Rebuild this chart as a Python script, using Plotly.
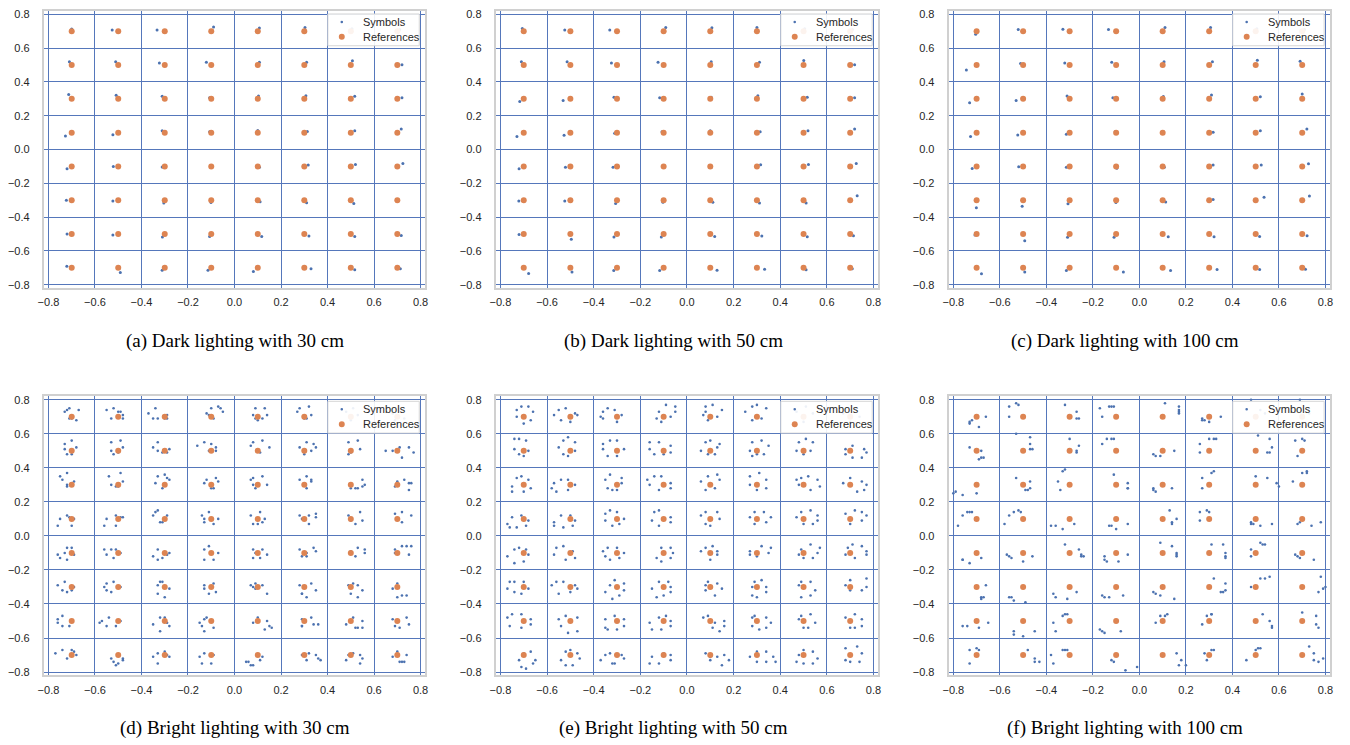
import plotly.graph_objects as go

# ---------------- data ----------------
XS = [-0.7, -0.5, -0.3, -0.1, 0.1, 0.3, 0.5, 0.7]
YS = [0.7, 0.5, 0.3, 0.1, -0.1, -0.3, -0.5, -0.7]
TICKS = [-0.8, -0.6, -0.4, -0.2, 0.0, 0.2, 0.4, 0.6, 0.8]
LEGEND_LABELS = ["Symbols", "References"]

CAPTIONS = [
    "(a) Dark lighting with 30 cm",
    "(b) Dark lighting with 50 cm",
    "(c) Dark lighting with 100 cm",
    "(d) Bright lighting with 30 cm",
    "(e) Bright lighting with 50 cm",
    "(f) Bright lighting with 100 cm",
]

# Dark lighting panels: symbol offset from each reference (thousandths), rows top->bottom
A_DX = [[0, -26, -33, 10, 7, 3, 5, 10],
        [-10, -11, -23, -21, 7, 10, 7, 20],
        [-13, -9, -11, -7, 3, 7, 17, 20],
        [-27, -23, -11, -7, 0, 13, 17, 17],
        [-20, -21, -11, 0, 7, 17, 20, 24],
        [-23, -23, -4, -1, 10, 10, 13, 0],
        [-20, -23, -10, -7, 17, 20, 17, 17],
        [-21, 9, -11, -14, -19, 29, 17, 13]]
A_DY = [[13, 8, 8, 25, 20, 23, 15, 10],
        [19, 19, 12, 16, 17, 17, 25, 2],
        [26, 22, 15, 7, 17, 18, 15, 7],
        [-20, -13, 11, 5, 13, 7, 11, 22],
        [-13, -1, -3, 0, -5, 9, 11, 17],
        [0, -5, -17, -13, -9, -15, -20, 0],
        [0, -5, -17, -15, -15, -11, -15, -9],
        [9, -28, -15, -15, -22, -5, -11, -5]]

B_DX = [[-6, -24, -31, 9, 7, 0, 5, 10],
        [-10, -14, -24, -24, 4, 11, 1, 19],
        [-17, -31, -13, -17, 4, 4, 16, 19],
        [-29, -27, -10, -7, 0, 14, 19, 19],
        [-20, -21, -17, 0, 4, 16, 21, 26],
        [-21, -24, -6, -3, 11, 11, 11, 30],
        [-20, 4, -13, -10, 19, 21, 16, 14],
        [21, 7, -14, -17, 29, 33, 11, 9]]
B_DY = [[16, 8, 8, 23, 21, 23, 15, 10],
        [19, 19, 12, 17, 19, 17, 27, 2],
        [-16, -10, 10, 6, 10, 19, 10, 6],
        [-23, -16, -4, 6, 12, 6, 12, 21],
        [-14, -4, -4, -6, -4, 10, 12, 17],
        [-4, -4, -19, -12, -12, -17, -17, 27],
        [-2, -31, -17, -17, -14, -12, -16, -10],
        [-33, -25, -16, -16, -14, -8, -12, -6]]

C_DX = [[-4, -21, -29, -33, 10, 6, 5, 10],
        [-44, -11, -21, -19, 6, 14, 7, -9],
        [-30, -30, -11, -14, 3, 10, 20, 0],
        [-26, -23, -14, -4, 3, 17, 20, 20],
        [-19, -19, -14, 3, 7, 17, 24, 27],
        [-1, -4, -7, -1, 13, 17, 36, 31],
        [-7, 7, -9, -9, 24, 21, 17, 21],
        [21, 7, -14, 31, 34, 34, 17, 14]]
C_DY = [[-17, 10, 12, 10, 23, 23, 15, 10],
        [-29, 10, 12, 17, 19, 19, 29, 23],
        [-23, -10, 17, 6, 14, 23, 12, 29],
        [-23, -14, -10, 6, 6, 2, 12, 21],
        [-12, -2, -4, -10, -4, 8, 8, 16],
        [-45, -35, -21, -14, -10, 4, 17, 25],
        [-6, -39, -19, -19, -16, -16, -14, -10],
        [-35, -25, -16, -25, -16, -10, -10, -8]]

# Bright lighting panels: symbol offsets (hundredths) around each reference, rows top->bottom
D_PTS = [
    [[(-3, 3), (-2, 4), (-1, 5), (3, 4), (-1, -1), (0, -1), (2, -2)],
     [(-5, 4), (-2, 5), (0, 3), (1, 3), (-3, -1), (2, -1), (2, 1)],
     [(-7, 2), (-4, 5), (-5, -1), (-3, -1), (0, -1), (1, 1), (1, -1)],
     [(-2, 2), (0, 5), (3, 6), (4, 5), (5, 3), (1, -1), (-1, 1)],
     [(-2, 1), (-1, 5), (3, 5), (4, 1), (0, -2), (2, -1), (-1, -1)],
     [(-3, 3), (-2, 5), (2, 6), (3, 1), (1, -1), (0, -1)],
     [(-2, 3), (1, 5), (3, 1), (0, -2)],
     [(-2, 2), (2, 4), (3, -1), (-1, -2)]],
    [[(-3, 4), (0, 6), (2, 2), (-2, -2), (0, -2), (-3, 1)],
     [(-3, 5), (1, 6), (2, 2), (-3, 0), (-2, -2), (0, -1)],
     [(-5, 2), (-3, 5), (-3, 0), (-1, -1), (1, -1), (2, 1)],
     [(-6, 3), (-3, 5), (0, 4), (2, 2), (2, 0), (-1, 0)],
     [(-3, 3), (-2, 5), (2, 6), (5, 2), (1, -1), (0, 0)],
     [(-2, 2), (1, 5), (4, 4), (5, 2), (3, 0), (0, -2)],
     [(-1, 5), (3, 6), (4, 1), (-1, -2), (0, -1)],
     [(-5, 0), (-2, 0), (1, 2), (5, 2), (7, -1), (2, -4)]],
    [[(-5, 5), (-4, 3), (-2, 7), (1, 2), (-2, 0), (-2, -1)],
     [(-4, 5), (1, 7), (2, 2), (-3, 0), (-1, -1), (0, -1)],
     [(-4, 1), (-3, 5), (0, 6), (1, 4), (2, 3), (-1, -2)],
     [(-3, 1), (-2, 3), (2, 4), (3, 2), (0, -2), (1, -2)],
     [(-3, 3), (-2, 4), (2, 5), (4, 0), (-1, -2), (-2, 0)],
     [(-2, 3), (1, 5), (3, 3), (3, 2), (1, -2)],
     [(2, -2), (3, -2), (5, -1), (5, 3), (6, 0), (0, -2)],
     [(-1, -1), (0, 2), (3, 3), (5, 1), (6, 1), (5, -3)]],
    [[(-6, -4), (-5, 0), (-2, 2), (-1, 1), (1, 0), (0, -4)],
     [(-6, -4), (-5, 0), (-1, 2), (1, 1), (2, 1), (-1, -4)],
     [(-5, 2), (-4, 4), (-3, 5), (1, 2), (-2, -2), (-1, -2)],
     [(-4, 2), (-3, 0), (-1, 4), (3, 0), (1, -3), (-3, -2)],
     [(-3, 2), (1, 4), (3, 0), (2, -2), (0, -3), (-2, -3)],
     [(-2, 2), (2, 2), (5, 3), (5, 1), (2, -3), (-1, 0)],
     [(-1, 2), (0, -1), (4, 4), (5, -1), (2, -3)],
     [(-1, 3), (0, 0), (2, 4), (6, 2), (2, -2)]],
    [[(-6, -1), (-5, -3), (-3, 0), (-2, 3), (-2, -4), (1, -1), (0, 3)],
     [(-6, 2), (-5, -1), (-3, 2), (-1, 2), (1, 0), (-2, -3)],
     [(-5, -2), (-3, 2), (-1, -3), (1, -1), (2, 0), (-3, -4)],
     [(-3, 2), (-1, 4), (3, 0), (-3, -4), (1, -4)],
     [(-2, 2), (-1, 0), (2, 2), (4, -1), (1, -3), (-2, -3)],
     [(-2, 2), (-1, -2), (1, 0), (4, 3), (5, 1), (1, -2)],
     [(0, 1), (2, -2), (3, 3), (6, 2), (6, 0)],
     [(-1, 2), (2, 4), (4, 4), (6, 4), (5, -1), (-1, 0)]],
    [[(-6, 1), (-3, 3), (-4, -2), (-2, -3), (0, -2), (1, 0)],
     [(-6, 0), (-5, 2), (-2, 3), (-5, -2), (-3, -3), (1, 0)],
     [(-3, 1), (-2, 3), (-1, 3), (-3, -4), (0, -6), (2, -1)],
     [(-3, 1), (-3, -1), (-1, -4), (1, 2), (2, -3)],
     [(-3, 1), (-2, 0), (-1, 2), (2, 1), (4, -4), (-1, -1)],
     [(-2, 1), (-1, -4), (1, -6), (3, 2), (5, -2), (-1, -4)],
     [(-1, 1), (1, 2), (3, 1), (5, -2), (3, -6), (0, -4)],
     [(-2, -1), (0, 2), (0, -6), (2, -5), (4, -5)]],
    [[(-6, 1), (-6, -1), (-4, 3), (-4, -3), (-1, -3), (0, 0)],
     [(-8, -1), (-7, 0), (-4, 2), (-5, -3), (-1, -3), (1, 0)],
     [(-5, -2), (-2, 2), (-2, -6), (1, -1), (2, -3), (0, 2)],
     [(-5, -1), (-4, -3), (-3, 1), (-3, -6), (1, -4), (-2, 2)],
     [(-2, -1), (0, 2), (4, 0), (5, -3), (6, -4), (3, -5)],
     [(-1, -3), (-1, 1), (3, 2), (4, -2), (6, -2), (-1, -3)],
     [(-2, -2), (1, 2), (3, -4), (5, 0), (2, -4), (5, -4)],
     [(-2, 1), (4, 2), (5, -2), (1, -4), (-1, -3)]],
    [[(-7, 1), (-4, 3), (-2, -2), (0, 3), (2, 0), (1, 2)],
     [(-3, -2), (-2, -4), (0, -5), (2, -3), (2, -2), (-1, -6)],
     [(-5, -1), (-3, 1), (-3, -5), (1, 0), (2, -1), (0, 2)],
     [(-5, -1), (-4, -5), (-3, 1), (0, -5), (1, 0)],
     [(-5, -4), (-3, -6), (-2, -6), (1, -3), (2, -1), (-4, -4)],
     [(-1, 0), (1, -3), (2, 1), (5, 0), (7, -3), (6, -2)],
     [(-2, -3), (1, 1), (4, 0), (5, -2), (4, -5), (-1, 0)],
     [(-2, -1), (0, 2), (1, -4), (3, -4), (4, 0), (2, -4)]],
]

E_PTS = [
    [[(-3, 4), (-1, 6), (2, 6), (4, 3), (3, -2), (0, -4), (-3, 0)],
     [(-7, 1), (-5, 4), (-2, 5), (2, 2), (3, 1), (0, -3), (-4, -2)],
     [(-7, 0), (-6, 3), (-4, 5), (-1, 4), (2, 1), (0, -3), (-6, -1)],
     [(-3, -1), (-2, 3), (1, 7), (5, 6), (5, 3), (3, 0), (-1, -3)],
     [(-1, -2), (-2, 6), (1, 7), (5, 4), (3, 0), (-3, 1), (-2, 3)],
     [(-5, 3), (-2, 6), (0, 7), (4, 5), (2, -1), (-2, -2)],
     [(-3, 3), (1, 6), (4, 2), (0, -3)],
     [(-3, 2), (2, 5), (4, 0), (0, -3)]],
    [[(-4, 7), (-2, 7), (1, 6), (2, 0), (0, -3), (-2, -2), (-4, 1)],
     [(-3, 6), (-1, 8), (2, 5), (2, 0), (-1, -3), (-5, 2), (-3, -2)],
     [(-6, 4), (-3, 6), (0, 6), (3, 1), (0, -3), (-4, -3), (-6, 1)],
     [(-6, 5), (-2, 5), (3, 3), (3, -1), (0, -2), (-4, -2), (-6, 1)],
     [(-4, 0), (-2, 5), (0, 6), (4, 4), (3, 2), (2, -2), (-1, -2)],
     [(-3, 0), (-2, 5), (2, 6), (5, 3), (3, -2), (-2, -3), (0, -2)],
     [(-3, 0), (-2, 5), (1, 7), (4, 5), (3, 0), (0, -2)],
     [(-2, 1), (1, 3), (6, 1), (7, -1), (5, -4), (1, -4), (-2, -2)]],
    [[(-5, -1), (-5, -4), (-3, 4), (-1, 5), (2, 3), (3, -2), (0, -4)],
     [(-8, -2), (-6, -4), (-7, 1), (-4, 3), (-1, 3), (2, 0), (-1, -3)],
     [(-5, 3), (-3, 6), (2, 4), (2, 1), (-2, -3), (0, -3), (-4, -2)],
     [(-7, 3), (-4, 5), (-1, 5), (3, 1), (3, -2), (-2, -3), (-6, 0)],
     [(-4, 2), (-1, 5), (3, 6), (4, 3), (2, -2), (-2, -3)],
     [(-3, 5), (1, 7), (4, 3), (4, -2), (0, -3), (-3, 0)],
     [(-3, 3), (-1, 4), (2, 5), (6, 3), (7, -1), (3, -3), (-2, 0)],
     [(-3, 1), (0, 4), (5, 2), (7, 0), (6, -3), (3, -4)]],
    [[(-7, -3), (-6, -5), (-5, 1), (-1, 2), (2, -1), (1, -4), (-3, -5)],
     [(-7, -2), (-7, -4), (-4, 2), (0, 2), (2, -1), (1, -4), (-3, -5)],
     [(-5, -1), (-5, 3), (-3, 5), (0, 4), (3, 0), (1, -3), (-2, -4)],
     [(-5, -1), (-4, 4), (-2, 5), (3, 1), (3, -2), (-2, -4)],
     [(-4, 2), (-2, 4), (3, 4), (4, 0), (0, -4), (-2, -3)],
     [(-3, 1), (-1, 4), (3, 4), (6, 1), (4, -2), (-1, -3)],
     [(-3, 1), (-1, 4), (3, 5), (6, 2), (6, -1), (4, -3), (0, -3)],
     [(-2, 3), (2, 5), (5, 4), (7, 2), (5, -1), (0, -3)]],
    [[(-7, -2), (-4, 2), (-2, 3), (1, 2), (2, -1), (0, -5), (-4, -6)],
     [(-7, -1), (-6, 3), (-3, 4), (1, 1), (2, -3), (-2, -4)],
     [(-6, 1), (-5, -2), (-4, 3), (0, 3), (3, 0), (1, -3), (-3, -4)],
     [(-3, -3), (-1, 3), (3, 3), (4, 0), (3, -3), (-1, -5)],
     [(-4, 1), (-2, 3), (1, 4), (3, 1), (3, -1), (0, -4)],
     [(-3, 1), (-3, -1), (0, -2), (2, 4), (6, 3), (5, 0)],
     [(-2, -1), (-1, 2), (3, 5), (7, 3), (6, 0), (4, -3), (0, -3)],
     [(-2, -1), (-1, 3), (1, 5), (5, 4), (7, 1), (7, -1), (2, -3)]],
    [[(-7, -1), (-6, 3), (-4, 3), (0, 3), (2, -1), (-1, -4), (-4, -3)],
     [(-8, 1), (-6, 3), (-3, 3), (2, 1), (3, -1), (0, -3), (-5, -4)],
     [(-5, -3), (-3, 1), (-1, 4), (3, 2), (3, -2), (1, -5), (-2, -7)],
     [(-5, -1), (-3, -6), (-2, 3), (2, 3), (3, 0), (3, -3), (0, -5)],
     [(-2, 1), (-1, 3), (3, 2), (5, -1), (2, -5), (-2, -2)],
     [(-2, 0), (-1, 3), (2, 4), (4, 0), (4, -3), (0, -6), (-2, -5)],
     [(-2, 1), (-1, 3), (3, 3), (5, -2), (3, -5), (-1, -6)],
     [(-2, 1), (0, 4), (7, 5), (7, 0), (5, -2), (0, -2)]],
    [[(-7, 2), (-6, -3), (-5, 4), (-1, 4), (3, 1), (3, -2), (-1, -4)],
     [(-5, 1), (-2, 3), (3, 2), (3, -6), (-1, -7), (-4, -3)],
     [(-5, 1), (-5, -4), (-1, 3), (3, 1), (3, -3), (0, -5), (-4, -5)],
     [(-6, -1), (-5, -5), (-2, 2), (1, 3), (3, 0), (3, -3), (-1, -5)],
     [(-3, 2), (-1, 3), (2, -1), (6, 0), (6, -3), (4, -6), (1, -4)],
     [(-2, 2), (-1, 3), (4, 2), (6, -1), (4, -4), (1, -5), (-2, -3)],
     [(-2, 1), (-1, 3), (3, 4), (5, -1), (2, -4), (0, -4)],
     [(-2, 2), (2, 4), (5, 1), (5, -3), (2, -4), (0, -4)]],
    [[(-2, -3), (-1, -7), (1, -8), (0, 1), (3, 2), (5, -3), (4, -5)],
     [(-4, -3), (-2, -6), (-2, 2), (0, 3), (3, 1), (4, -2), (1, -6)],
     [(-7, -3), (-5, 0), (-3, 1), (-1, -5), (2, 0), (3, -2), (-2, -5)],
     [(-6, -5), (-5, -1), (-2, -5), (0, 1), (3, 0), (3, -3)],
     [(-2, 1), (0, -3), (3, -1), (6, 0), (8, -3), (5, -6), (0, -1)],
     [(-3, -1), (0, 2), (4, 2), (7, -1), (8, -4), (4, -4), (0, -4)],
     [(-3, -4), (-2, 0), (0, 3), (4, 2), (6, -2), (4, -5), (0, -5)],
     [(-2, 4), (3, 5), (5, 1), (4, -4), (0, -4), (-2, -3)]],
]

F_PTS = [
    [[(-3, -3), (-3, -4), (-2, -2), (4, 0), (1, -6)],
     [(-6, 6), (-6, 0), (-3, 8), (-2, 7)],
     [(-2, 7), (3, 3), (3, -1), (4, -1)],
     [(-7, 5), (-6, 0), (-3, 6), (-2, 6), (-1, 6)],
     [(1, 8), (7, 6), (7, 3), (7, 2), (7, 4)],
     [(-3, -1), (-3, -2), (-2, -2), (0, -3), (5, 0)],
     [(-2, 10), (2, 4), (4, 2)],
     [(-1, 10), (-3, 3), (3, 2)]],
    [[(-3, 2), (2, 0), (1, -5), (2, -4), (3, -4)],
     [(3, 8), (3, 4), (3, 1), (4, 1), (-3, 10)],
     [(0, 7), (4, 3), (3, 0), (3, -1)],
     [(-6, 4), (-4, 7), (-2, 7), (-1, 7)],
     [(-4, -2), (-3, -3), (-1, -3), (5, 0)],
     [(-4, 4), (-4, -1), (0, 7), (2, 7), (3, 7)],
     [(1, 9), (6, 7), (7, 2), (6, -1), (5, -1)],
     [(-3, 6), (-2, -3), (0, 7), (1, 6)]],
    [[(-10, -5), (-9, -4), (-6, -6), (0, -5)],
     [(-3, 4), (1, -3), (2, -3), (3, -2), (3, 2)],
     [(-5, 2), (-3, 8), (-2, 9), (-4, -3)],
     [(-1, 6), (5, 1), (5, -2), (5, -2)],
     [(-4, -2), (-4, -3), (-3, -4), (4, -2)],
     [(-3, 4), (-3, -2), (1, 7), (2, 8)],
     [(0, 5), (5, 4), (9, 1), (10, -1)],
     [(-4, 2), (0, 7), (2, 8), (2, 7)]],
    [[(-8, -4), (-6, 2), (-4, 4), (-3, 4), (-2, 4)],
     [(-8, -3), (-6, 2), (-4, 4), (-2, 5), (-1, 4)],
     [(-8, -4), (-6, -4), (-3, -6), (2, -3)],
     [(-3, -4), (-2, -4), (0, -6), (5, -3)],
     [(3, 5), (4, -3), (4, -2), (6, 0)],
     [(-4, 4), (-1, 5), (0, 4), (-4, -1)],
     [(-2, -2), (-2, -3), (-1, -3), (2, -4), (7, -3)],
     [(-2, -3), (-1, -2), (4, -4), (8, -2)]],
    [[(-6, -4), (-6, -4), (-3, -6), (2, -3)],
     [(-7, -1), (-6, -2), (-5, -3), (0, -5), (4, -2)],
     [(-2, 5), (4, 2), (5, -1), (5, -2), (6, -2)],
     [(-5, -2), (-5, -4), (-4, -5), (1, -5), (5, -1)],
     [(-1, 6), (4, 4), (6, 0), (6, -2), (6, -1)],
     [(1, 5), (6, 5), (7, 0), (7, -3), (7, -2)],
     [(-2, 2), (-2, -2), (2, 6), (3, 5), (4, 5)],
     [(-3, -1), (-2, -2), (-1, -3), (5, -4)]],
    [[(4, 1), (2, -6), (2, -7), (3, -6)],
     [(-6, -6), (-5, -6), (-4, -8), (1, -9)],
     [(-7, -4), (-6, -6), (-1, -7), (3, -3)],
     [(-6, -5), (-5, -6), (-3, -6), (3, -5)],
     [(-4, -3), (-3, -4), (-1, -5), (5, -7)],
     [(2, 5), (5, -3), (6, -3), (7, 2), (7, -2)],
     [(-2, 0), (2, 5), (4, 5), (6, 6)],
     [(8, 6), (7, -3), (9, -1), (10, 0)]],
    [[(-6, -3), (-4, -3), (1, -4), (5, -1)],
     [(-4, -6), (-4, -8), (0, -9), (5, -6)],
     [(-7, -1), (-6, -6), (-3, 3), (-2, 4), (-1, 4)],
     [(-7, -5), (-6, -6), (-5, -7), (2, -6)],
     [(-3, -1), (-1, 3), (1, 3), (2, 4)],
     [(-3, -2), (-1, 3), (1, 4), (1, 4)],
     [(3, 4), (6, 0), (7, -3), (7, -4)],
     [(0, 5), (6, 3), (6, -2), (7, -4)]],
    [[(-3, -5), (-3, 3), (0, 4), (1, 3)],
     [(2, 3), (5, -2), (5, -4), (7, -4)],
     [(-8, 0), (-7, -5), (-3, 3), (-2, 3), (-1, 3)],
     [(-2, -3), (-1, -4), (4, -9), (9, -7)],
     [(6, 1), (8, -3), (7, -6), (10, -6)],
     [(-2, 1), (-1, -3), (1, 3), (2, 3)],
     [(-4, -3), (0, 3), (1, 4), (2, 4)],
     [(3, 5), (5, 1), (5, -3), (7, -4), (9, -2)]],
]

# ---------------- styling ----------------
PAGE_OFF = 8                      # default body margin of the html page
W, H = 1350 - PAGE_OFF, 745 - PAGE_OFF
COLS_PX = [(38, 422), (493, 878), (949, 1333)]   # target page pixels
ROWS_PX = [(8, 287), (396, 677)]
ROW_TOP_REF = [6, 396]
CAP_X = [230, 672, 1127]
CAP_Y = [340, 730]
SYM_COLOR = "#4c72b0"
REF_COLOR = "#dd8452"
GRID_COLOR = "#5577bb"
FRAME_COLOR = "#d0d0d0"
FONT_SANS = "Liberation Sans, Arial, sans-serif"
TICK_FONT = dict(family=FONT_SANS, size=11, color="#262626")


def px_x(v):
    return min(1.0, max(0.0, (v - PAGE_OFF) / W))


def px_y(v):
    return min(1.0, max(0.0, 1 - (v - PAGE_OFF) / H))


def dark_points(dx, dy):
    xs, ys = [], []
    for r, yv in enumerate(YS):
        for c, xv in enumerate(XS):
            xs.append(xv + dx[r][c] / 1000.0)
            ys.append(yv + dy[r][c] / 1000.0)
    return xs, ys


def bright_points(pts):
    xs, ys = [], []
    for r, yv in enumerate(YS):
        for c, xv in enumerate(XS):
            for (dx, dy) in pts[r][c]:
                xs.append(xv + dx / 100.0)
                ys.append(yv + dy / 100.0)
    return xs, ys


panels = [
    dark_points(A_DX, A_DY),
    dark_points(B_DX, B_DY),
    dark_points(C_DX, C_DY),
    bright_points(D_PTS),
    bright_points(E_PTS),
    bright_points(F_PTS),
]

ref_x = [xv for yv in YS for xv in XS]
ref_y = [yv for yv in YS for xv in XS]

fig = go.Figure()
layout = dict(
    width=W, height=H,
    margin=dict(l=0, r=0, t=0, b=0),
    paper_bgcolor="white", plot_bgcolor="white",
    showlegend=False,
    annotations=[], shapes=[],
)


def circle(cx, cy, d, color):
    return dict(type="circle", xref="paper", yref="paper",
                x0=px_x(cx - d / 2), x1=px_x(cx + d / 2),
                y0=px_y(cy + d / 2), y1=px_y(cy - d / 2),
                fillcolor=color, line=dict(width=0), layer="above")


for i in range(6):
    row, col = divmod(i, 3)
    l, r = COLS_PX[col]
    t, b = ROWS_PX[row]
    n = "" if i == 0 else str(i + 1)
    xa, ya = "x" + n, "y" + n
    axis_common = dict(
        range=[-0.82, 0.82],
        tickvals=TICKS,
        tickformat=".1f",
        showgrid=True, gridcolor=GRID_COLOR, gridwidth=1.3,
        zeroline=True, zerolinecolor=GRID_COLOR, zerolinewidth=1.3,
        showline=True, linecolor=FRAME_COLOR, linewidth=2, mirror=True,
        ticks="", tickfont=TICK_FONT, fixedrange=True,
    )
    layout["xaxis" + n] = dict(axis_common, domain=[px_x(l), px_x(r)], anchor=ya,
                               ticklabelstandoff=3)
    layout["yaxis" + n] = dict(axis_common, domain=[px_y(b), px_y(t)], anchor=xa,
                               ticklabelstandoff=10)
    sx, sy = panels[i]
    fig.add_trace(go.Scatter(
        x=sx, y=sy, mode="markers", name=LEGEND_LABELS[0],
        marker=dict(size=3 if i < 3 else 2.6, color=SYM_COLOR),
        xaxis=xa, yaxis=ya,
    ))
    fig.add_trace(go.Scatter(
        x=ref_x, y=ref_y, mode="markers", name=LEGEND_LABELS[1],
        marker=dict(size=6, color=REF_COLOR),
        xaxis=xa, yaxis=ya,
    ))
    # legend box (matplotlib-style, top-right inside the axes)
    lt = ROW_TOP_REF[row]
    layout["shapes"].append(dict(
        type="rect", xref="paper", yref="paper",
        x0=px_x(r - 98), x1=px_x(r - 6), y0=px_y(lt + 37), y1=px_y(lt + 5),
        fillcolor="rgba(255,255,255,0.9)", line=dict(color="#d6d6d6", width=1),
        layer="above",
    ))
    layout["shapes"].append(circle(r - 84, lt + 13, 2.6, SYM_COLOR))
    layout["shapes"].append(circle(r - 84, lt + 28, 6, REF_COLOR))
    for k, lab in enumerate(LEGEND_LABELS):
        layout["annotations"].append(dict(
            text=lab, xref="paper", yref="paper",
            x=px_x(r - 65), y=px_y(lt + 13 + 15 * k), xanchor="left", yanchor="middle",
            showarrow=False, font=dict(family=FONT_SANS, size=11, color="#262626"),
        ))
    layout["annotations"].append(dict(
        text=CAPTIONS[i], xref="paper", yref="paper",
        x=px_x(CAP_X[col]), y=px_y(CAP_Y[row]), xanchor="center", yanchor="middle",
        showarrow=False,
        font=dict(family="Liberation Serif, Times New Roman, serif", size=19, color="black"),
    ))

fig.update_layout(**layout)
fig.write_html("out.html")
